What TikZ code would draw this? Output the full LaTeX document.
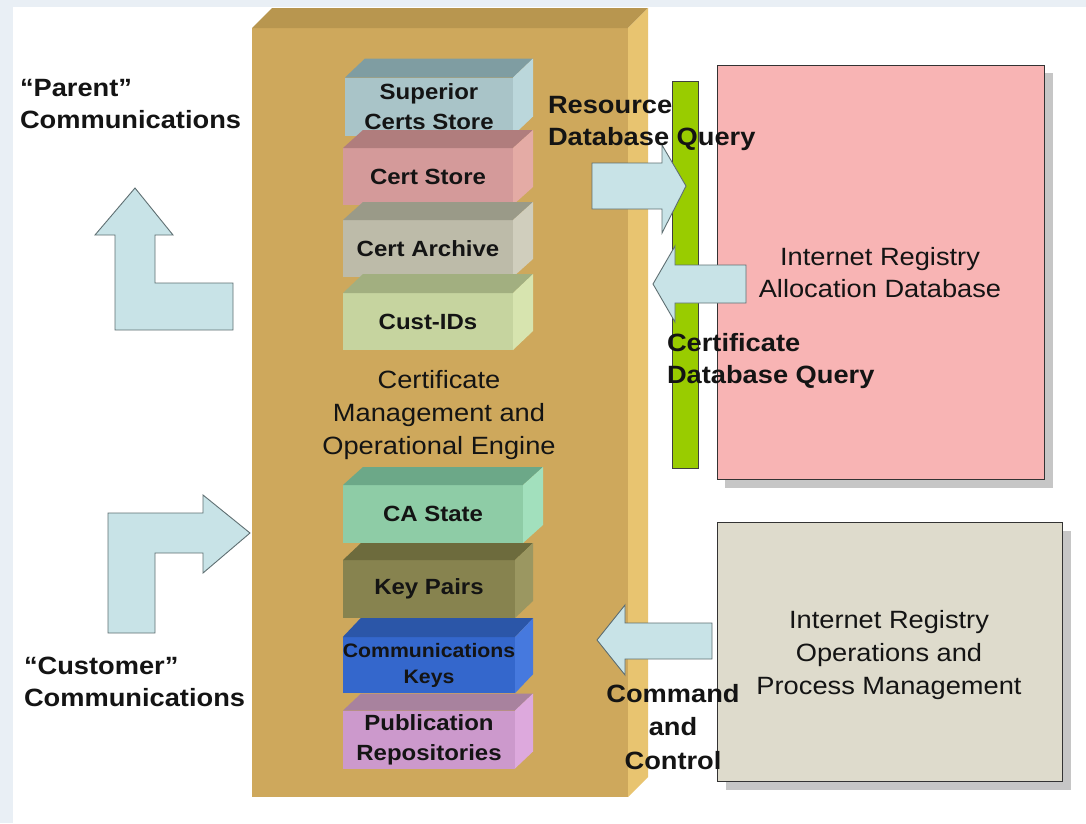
\documentclass[tikz,border=0pt]{standalone}
\usepackage{fontspec}
\setmainfont{Liberation Sans}[FakeStretch=1.09]
\usetikzlibrary{calc}

\definecolor{pagebg}{HTML}{E9EFF5}
\definecolor{goldfront}{HTML}{CEA85C}
\definecolor{goldtop}{HTML}{B8964F}
\definecolor{goldside}{HTML}{E8C470}
\definecolor{arrowfill}{HTML}{C8E3E7}
\definecolor{arrowedge}{HTML}{5F6F72}
\definecolor{barfill}{HTML}{99CC00}
\definecolor{dbfill}{HTML}{F8B4B4}
\definecolor{opsfill}{HTML}{DEDBCC}
\definecolor{shadowgray}{HTML}{C6C6C6}

% face colours of the store blocks: front / top / side
\definecolor{supF}{HTML}{A9C4C8}\definecolor{supT}{HTML}{7F9DA2}\definecolor{supS}{HTML}{BBD7DB}
\definecolor{cstF}{HTML}{D49A9A}\definecolor{cstT}{HTML}{B07D7D}\definecolor{cstS}{HTML}{E4ABA5}
\definecolor{arcF}{HTML}{BDBBA9}\definecolor{arcT}{HTML}{9A9A88}\definecolor{arcS}{HTML}{D0CEBD}
\definecolor{cidF}{HTML}{C6D49F}\definecolor{cidT}{HTML}{A2AF80}\definecolor{cidS}{HTML}{D7E4AF}
\definecolor{casF}{HTML}{8ECCA6}\definecolor{casT}{HTML}{6CA888}\definecolor{casS}{HTML}{A2E0BD}
\definecolor{kpF}{HTML}{87834F}\definecolor{kpT}{HTML}{6D6B3D}\definecolor{kpS}{HTML}{9B9761}
\definecolor{ckF}{HTML}{3467CC}\definecolor{ckT}{HTML}{2B56A8}\definecolor{ckS}{HTML}{4679DE}
\definecolor{pubF}{HTML}{CC99CC}\definecolor{pubT}{HTML}{A8829E}\definecolor{pubS}{HTML}{DDA9DD}

% top and right faces of a block node #1, depth (#4,#5)
\newcommand\blockfaces[5]{%
  \fill[#2] (#1.north west) -- ([shift={(#4,-#5)}]#1.north west)
            -- ([shift={(#4,-#5)}]#1.north east) -- (#1.north east) -- cycle;
  \fill[#3] (#1.north east) -- ([shift={(#4,-#5)}]#1.north east)
            -- ([shift={(#4,-#5)}]#1.south east) -- (#1.south east) -- cycle;
}

\begin{document}
\begin{tikzpicture}[x=1pt,y=-1pt,
  every node/.style={inner sep=0pt, outer sep=0pt, text=black!92},
  slab/.style={minimum width=170pt, minimum height=57pt,
               font=\fontsize{22}{30}\selectfont\bfseries, align=center},
  blockarrow/.style={fill=arrowfill, draw=arrowedge, line width=0.9pt, line join=miter},
  lbl/.style={font=\fontsize{25}{32.5}\selectfont\bfseries, align=left, anchor=west},
  body/.style={font=\fontsize{25}{33}\selectfont, align=center},
  panel/.style={draw=black!80, line width=0.9pt},
]
\useasboundingbox (0,0) rectangle (1086,823);
\fill[pagebg] (0,0) rectangle (1086,823);
\fill[white] (13,7) rectangle (1086,823);

% ---------------- engine block ----------------
\node[fill=goldfront, minimum width=376pt, minimum height=769pt]
  (engine) at (440,412.5) {};
\blockfaces{engine}{goldtop}{goldside}{20}{20}
\node[body] (enginelbl) at (439,415)
  {Certificate\\Management and\\Operational Engine};

% ---------------- store blocks ----------------
\node[slab, fill=supF, minimum width=168pt, minimum height=58pt] (sup) at (429,106.5) {Superior\\Certs Store};
\blockfaces{sup}{supT}{supS}{20}{19}
\node[slab, fill=cstF] (cst) at (428,176.5) {Cert Store};
\blockfaces{cst}{cstT}{cstS}{20}{18}
\node[slab, fill=arcF] (arc) at (428,248.5) {Cert Archive};
\blockfaces{arc}{arcT}{arcS}{20}{18}
\node[slab, fill=cidF] (cid) at (428,321.5) {Cust-IDs};
\blockfaces{cid}{cidT}{cidS}{20}{19}

\node[slab, fill=casF, minimum width=180pt, minimum height=58pt] (cas) at (433,514) {CA State};
\blockfaces{cas}{casT}{casS}{20}{18}
\node[slab, fill=kpF, minimum width=172pt, minimum height=58pt] (kp) at (429,589) {Key Pairs};
\blockfaces{kp}{kpT}{kpS}{18}{17}
\node[slab, fill=ckF, minimum width=172pt, minimum height=56pt,
      font=\fontsize{19.5}{26}\selectfont\bfseries] (ck) at (429,665) {Communications\\Keys};
\blockfaces{ck}{ckT}{ckS}{18}{19}
\node[slab, fill=pubF, minimum width=172pt, minimum height=58pt] (pub) at (429,739.5) {Publication\\Repositories};
\blockfaces{pub}{pubT}{pubS}{18}{17}

% ---------------- communication arrows on the left ----------------
\draw[blockarrow] (135,188) -- (173,235) -- (155,235) -- (155,283) -- (233,283)
  -- (233,330) -- (115,330) -- (115,235) -- (95,235) -- cycle;
\draw[blockarrow] (250,533) -- (203,573) -- (203,553) -- (155,553) -- (155,633)
  -- (108,633) -- (108,513) -- (203,513) -- (203,495) -- cycle;

\node[lbl] (parent) at (20,104) {``Parent''\\Communications};
\node[lbl] (customer) at (24,682) {``Customer''\\Communications};

% ---------------- allocation database ----------------
\fill[shadowgray] (725,73) rectangle (1053,488);
\node[panel, fill=dbfill, minimum width=327pt, minimum height=414pt, anchor=north west]
  (alloc) at (717,65) {};
\node[body, font=\fontsize{25}{32}\selectfont] (alloclbl) at (880,273)
  {Internet Registry\\Allocation Database};

\node[draw=black!75, line width=0.9pt, fill=barfill, minimum width=26pt,
      minimum height=387pt, anchor=north west] (bar) at (672,81) {};

\draw[blockarrow] (592,163) -- (662,163) -- (662,145) -- (686,186) -- (662,233)
  -- (662,209) -- (592,209) -- cycle;
\draw[blockarrow] (746,265) -- (675,265) -- (675,246) -- (653,284) -- (675,322)
  -- (675,303) -- (746,303) -- cycle;

\node[lbl] (resq) at (548,123.5) {Resource\\Database Query};
\node[lbl] (certq) at (667,361) {Certificate\\Database Query};

% ---------------- operations management ----------------
\fill[shadowgray] (726,531) rectangle (1071,790);
\node[panel, fill=opsfill, minimum width=345pt, minimum height=259pt, anchor=north west]
  (ops) at (717,522) {};
\node[body] (opslbl) at (889,655)
  {Internet Registry\\Operations and\\Process Management};

\draw[blockarrow] (712,623) -- (625,623) -- (625,605) -- (597,640) -- (625,675)
  -- (625,659) -- (712,659) -- cycle;

\node[lbl, anchor=center, align=center, font=\fontsize{25}{33.5}\selectfont\bfseries]
  (cmd) at (673,727) {Command\\and\\Control};
\end{tikzpicture}
\end{document}
